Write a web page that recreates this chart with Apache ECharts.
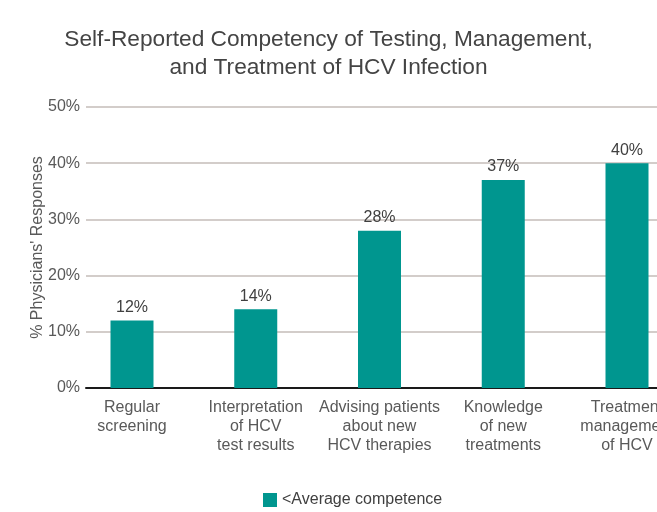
<!DOCTYPE html>
<html>
<head>
<meta charset="utf-8">
<script src="https://cdn.jsdelivr.net/npm/echarts@6/dist/echarts.min.js"></script>
<style>
  html, body { margin: 0; padding: 0; background: #fff; }
  #main { width: 657px; height: 512px; }
</style>
</head>
<body>
<div id="main"></div>
<script>
const categories = [
  'Regular\nscreening',
  'Interpretation\nof HCV\ntest results',
  'Advising patients\nabout new\nHCV therapies',
  'Knowledge\nof new\ntreatments',
  'Treatment\nmanagement\nof HCV'
]
const competence = [12, 14, 28, 37, 40]
const yTicks = { min: 0, max: 50, interval: 10 }

const font = '"Liberation Sans", Arial, sans-serif'
// the original plot is wider than the picture: the last category is cut at the right edge,
// so the x axis is a value axis over category indexes, with its visible range clipped
const catIndex = categories.map((c, i) => i)
const barData = competence.map((v, i) => [i, v])

const myChart = echarts.init(document.getElementById('main'))
myChart.setOption({
  animation: false,
  color: ['#00968f'],
  textStyle: { fontFamily: font },
  title: {
    text: 'Self-Reported Competency of Testing, Management,\nand Treatment of HCV Infection',
    left: 'center',
    top: 21,
    textStyle: {
      fontFamily: font,
      fontSize: 22.7,
      fontWeight: 'normal',
      color: '#444',
      lineHeight: 28
    }
  },
  legend: {
    data: ['<Average competence'],
    top: 487,
    left: 258,
    icon: 'rect',
    itemWidth: 14,
    itemHeight: 14,
    itemGap: 8,
    textStyle: { fontFamily: font, fontSize: 16, color: '#404040' }
  },
  grid: { left: 86, right: 0, top: 107, bottom: 124, outerBoundsMode: 'none', containLabel: false },
  xAxis: {
    type: 'value',
    min: -0.3717,
    max: 4.2424,
    splitLine: { show: false },
    axisLine: { show: true, onZero: false, lineStyle: { color: '#1a1a1a', width: 2 } },
    axisTick: { show: false },
    axisLabel: {
      customValues: catIndex,
      formatter: (v) => categories[v],
      margin: 10,
      fontFamily: font,
      fontSize: 16,
      lineHeight: 19,
      color: '#595959'
    }
  },
  yAxis: {
    type: 'value',
    min: yTicks.min,
    max: yTicks.max,
    interval: yTicks.interval,
    name: "% Physicians' Responses",
    nameLocation: 'middle',
    nameRotate: 90,
    nameGap: 40,
    nameMoveOverlap: false,
    nameTextStyle: { fontFamily: font, fontSize: 16, color: '#595959' },
    axisLine: { show: false },
    axisTick: { show: false },
    axisLabel: {
      formatter: '{value}%',
      margin: 6,
      fontFamily: font,
      fontSize: 16,
      color: '#595959'
    },
    splitLine: { lineStyle: { color: '#c4bcb8', width: 1.5 } }
  },
  series: [
    {
      name: '<Average competence',
      type: 'bar',
      barWidth: 43,
      z: 1,
      data: barData,
      label: {
        show: true,
        position: 'top',
        distance: 5,
        formatter: (p) => p.value[1] + '%',
        fontFamily: font,
        fontSize: 16,
        color: '#404040'
      }
    }
  ]
})
window.addEventListener('resize', () => {
  myChart.resize()
})
</script>
</body>
</html>
